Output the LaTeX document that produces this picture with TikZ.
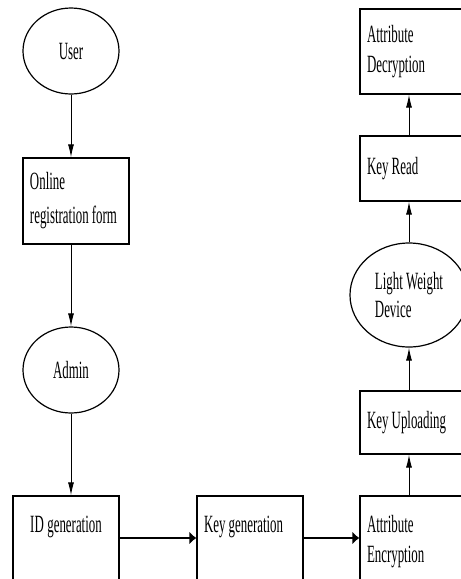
\documentclass[tikz,border=0pt]{standalone}
\usepackage{fontspec}
\setmainfont{Liberation Serif}[FakeStretch=0.52]
\usepackage{tikz}
\usetikzlibrary{shapes.geometric, arrows.meta}

\begin{document}
\begin{tikzpicture}[
          x=0.5pt, y=-0.5pt,
          every node/.style={font=\fontsize{12.4pt}{15pt}\selectfont},
          box/.style={rectangle, draw, line width=0.6pt, text width=46pt,
                      inner xsep=3.5pt, inner ysep=0pt, align=left,
                      execute at begin node={\spaceskip=0pt\xspaceskip=0pt},
                      minimum height=#1},
          box/.default=43pt,
          lowbox/.style={box=42pt, text height=18pt, text depth=24pt},
          oval/.style={ellipse, draw, line width=0.6pt, inner sep=0pt,
                       align=left, minimum width=48pt, minimum height=43pt},
          varr/.style={-{Latex[length=6.5pt, width=3pt]}, line width=0.5pt},
          harr/.style={-{Latex[length=3.5pt, width=6.5pt]}, line width=0.8pt}
        ]
        \path[use as bounding box, clip] (0,0) rectangle (461,579);

        % left column
        \node[oval] (user) at (71, 51) {User};
        \node[box] (form) at (76, 201) {Online\\[2pt]registration form};
        \node[oval] (admin) at (71, 370) {Admin};

        % bottom row
        \node[lowbox, align=center] (idgen) at (66, 538) {ID generation};
        \node[lowbox] (keygen) at (250, 538) {Key generation};
        \node[lowbox] (enc) at (413, 538) {Attribute\\Encryption};

        % right column
        \node[box=31.5pt] (upload) at (413, 422.5) {Key Uploading};
        \node[oval, minimum width=59pt, minimum height=52pt] (device) at (409, 295)
             {Light Weight\\[-1pt]Device};
        \node[box=32.5pt] (read) at (413, 168.5) {Key Read};
        \node[box=42.5pt] (dec) at (413, 51.5) {Attribute\\Decryption};

        \draw[varr] (user.south) -- (user.south |- form.north);
        \draw[varr] (admin.north |- form.south) -- (admin.north);
        \draw[varr] (admin.south) -- (admin.south |- idgen.north);

        \draw[harr] (idgen.east) -- (keygen.west);
        \draw[harr] (keygen.east) -- (enc.west);

        \draw[varr] (device.south |- enc.north) -- (device.south |- upload.south);
        \draw[varr] (device.south |- upload.north) -- (device.south);
        \draw[varr] (device.north) -- (device.north |- read.south);
        \draw[varr] (device.north |- read.north) -- (device.north |- dec.south);
      \end{tikzpicture}
\end{document}
